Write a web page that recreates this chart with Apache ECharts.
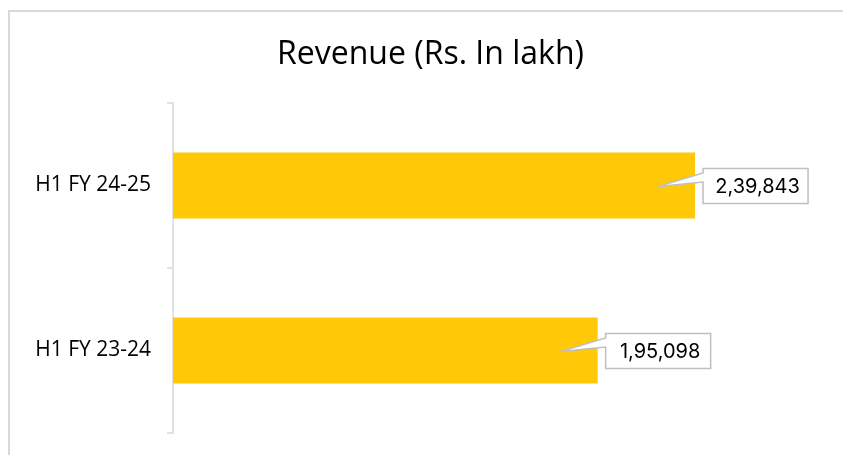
<!DOCTYPE html>
<html>
<head>
<meta charset="utf-8">
<script src="https://cdn.jsdelivr.net/npm/echarts@6/dist/echarts.min.js"></script>
<style>
html,body{margin:0;padding:0;background:#fff;}
#frame{position:absolute;left:8px;top:10px;width:840px;height:470px;border:2px solid #D9D9D9;box-sizing:border-box;}
#chart{position:absolute;left:0;top:0;width:843px;height:455px;}
</style>
</head>
<body>
<div id="frame"></div>
<div id="chart"></div>
<script>
var titleText = 'Revenue (Rs. In lakh)';
var categories = ['H1 FY 24-25', 'H1 FY 23-24'];
var revenue = [239843, 195098];
var labelsText = ['2,39,843', '1,95,098'];

var FONT = '"Open Sans", Inter, sans-serif';
var VFONT = 'Inter, "Open Sans", sans-serif';
var chart = echarts.init(document.getElementById('chart'), null, {renderer: 'canvas'});

var calloutData = revenue.map(function (v, i) { return [v, i, labelsText[i]]; });

var option = {
  backgroundColor: 'transparent',
  animation: false,
  title: {
    text: titleText,
    left: 272,
    top: 34,
    textStyle: {fontFamily: FONT, fontSize: 32, fontWeight: 'normal', color: '#000'}
  },
  grid: {left: 173, top: 103, height: 330, right: 17, containLabel: false},
  xAxis: {
    type: 'value', min: 0, max: 300000, show: false,
    splitLine: {show: false}
  },
  yAxis: {
    type: 'category',
    data: categories,
    inverse: true,
    axisLine: {show: true, lineStyle: {color: '#D9D9D9', width: 1.5}},
    axisTick: {show: true, length: 6, lineStyle: {color: '#D9D9D9', width: 1.5}},
    axisLabel: {fontFamily: FONT, fontSize: 21, color: '#000', margin: 22}
  },
  series: [
    {
      type: 'bar',
      data: revenue,
      barWidth: 66,
      itemStyle: {color: '#FFC907'},
      silent: true
    },
    {
      type: 'custom',
      data: calloutData,
      encode: {x: 0, y: 1},
      clip: false,
      silent: true,
      z: 10,
      renderItem: function (params, api) {
        var p = api.coord([api.value(0), api.value(1)]);
        var x = p[0], y = p[1];
        var bx = x + 8, w = 105, h = 35;
        var top = y - 17, bottom = top + h;
        var tip = [x - 37, y + 1];
        var pts = [
          [bx, top], [bx + w, top], [bx + w, bottom], [bx, bottom],
          [bx, y - 3.5], tip, [bx, y - 12.5]
        ];
        return {
          type: 'group',
          children: [
            {
              type: 'polygon',
              shape: {points: pts},
              style: {fill: '#fff', stroke: '#BFBFBF', lineWidth: 1.5}
            },
            {
              type: 'text',
              style: {
                text: calloutData[params.dataIndex][2],
                x: bx + w / 2 + 2, y: top + h / 2 + 1,
                align: 'center', verticalAlign: 'middle',
                font: '20px ' + VFONT, fill: '#000'
              }
            }
          ]
        };
      }
    }
  ]
};
chart.setOption(option);
</script>
</body>
</html>
